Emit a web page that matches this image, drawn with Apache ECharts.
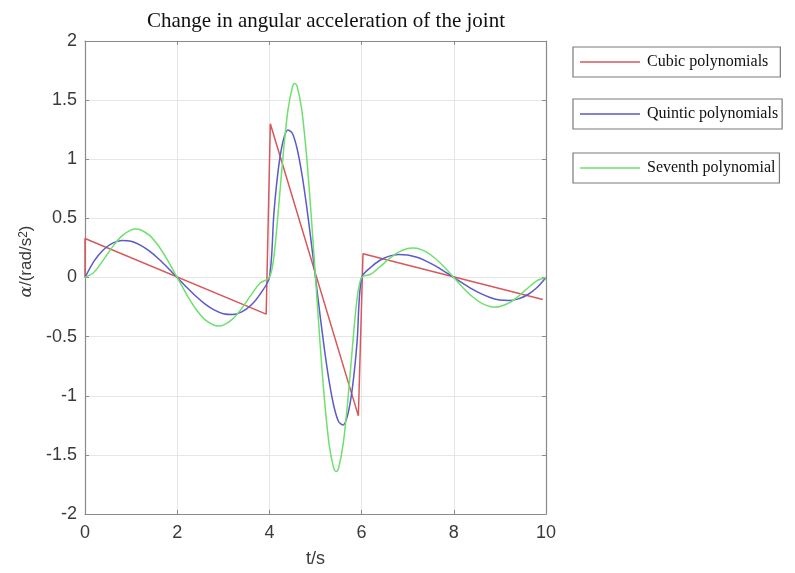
<!DOCTYPE html>
<html>
<head>
<meta charset="utf-8">
<script src="https://cdn.jsdelivr.net/npm/echarts@6/dist/echarts.min.js"></script>
<style>html,body{margin:0;padding:0;background:#fff;}#c{width:795px;height:573px;}</style>
</head>
<body>
<div id="c"></div>
<script>
// ---- data ----
const xTicks = [0, 2, 4, 6, 8, 10];
const yTicks = [-2, -1.5, -1, -0.5, 0, 0.5, 1, 1.5, 2];

const cubicT = [0, 0, 3.93, 4.02, 5.93, 6.03, 9.93];
const cubicA = [0, 0.33, -0.31, 1.30, -1.17, 0.20, -0.186];

const quinticT = [0,0.2,0.4,0.6,0.8,1.0,1.2,1.4,1.6,1.8,2.0,2.2,2.4,2.6,2.8,3.0,3.2,3.4,3.6,3.8,4.0,
  4.1,4.2,4.3,4.4,4.5,4.6,4.7,4.8,4.9,5.0,5.1,5.2,5.3,5.4,5.5,5.6,5.7,5.8,5.9,6.0,
  6.2,6.4,6.6,6.8,7.0,7.2,7.4,7.6,7.8,8.0,8.2,8.4,8.6,8.8,9.0,9.2,9.4,9.6,9.8,10.0];
const quinticA = [0,0.14,0.235,0.291,0.313,0.306,0.274,0.223,0.157,0.081,0,-0.081,-0.157,-0.223,-0.274,-0.306,-0.313,-0.291,-0.235,-0.14,0,
  0.555,0.935,1.159,1.247,1.218,1.091,0.887,0.624,0.322,0,-0.322,-0.624,-0.887,-1.091,-1.218,-1.247,-1.159,-0.935,-0.555,0,
  0.087,0.146,0.181,0.195,0.191,0.171,0.139,0.098,0.05,0,-0.05,-0.098,-0.139,-0.171,-0.191,-0.195,-0.181,-0.146,-0.087,0];

const seventhT = [0,0.2,0.4,0.6,0.8,1.0,1.1,1.2,1.4,1.6,1.8,2.0,2.2,2.4,2.6,2.8,2.9,3.0,3.2,3.4,3.6,3.8,4.0,
  4.1,4.2,4.3,4.4,4.5,4.55,4.6,4.7,4.8,4.9,5.0,5.1,5.2,5.3,5.4,5.45,5.5,5.6,5.7,5.8,5.9,6.0,
  6.2,6.4,6.6,6.8,7.0,7.1,7.2,7.4,7.6,7.8,8.0,8.2,8.4,8.6,8.8,8.9,9.0,9.2,9.4,9.6,9.8,10.0];
const seventhA = [0,0.047,0.149,0.261,0.352,0.403,0.41,0.404,0.356,0.264,0.14,0,-0.14,-0.264,-0.356,-0.404,-0.41,-0.403,-0.352,-0.261,-0.149,-0.047,0,
  0.186,0.594,1.044,1.409,1.612,1.64,1.618,1.424,1.056,0.562,0,-0.562,-1.056,-1.424,-1.618,-1.64,-1.612,-1.409,-1.044,-0.594,-0.186,0,
  0.028,0.091,0.159,0.215,0.246,0.25,0.247,0.217,0.161,0.086,0,-0.086,-0.161,-0.217,-0.247,-0.25,-0.246,-0.215,-0.159,-0.091,-0.028,0];

const names = ['Cubic polynomials', 'Quintic polynomials', 'Seventh polynomial'];
const colors = ['#d9575a', '#5a5ac8', '#6ee06e'];

const zip = (a, b) => a.map((v, i) => [v, b[i]]);

const chart = echarts.init(document.getElementById('c'));
const axisGray = '#8a8a8a';
const labelStyle = { fontFamily: 'Liberation Sans, Arial, sans-serif', fontSize: 18, color: '#3a3a3a' };

function legendBox(i, top, padRight) {
  return {
    data: [{ name: names[i], icon: 'rect', itemStyle: { color: colors[i] } }],
    left: 573, top: top, orient: 'horizontal',
    itemWidth: 60, itemHeight: 1.6, itemGap: 0,
    padding: [7, padRight, 7, 7],
    borderColor: '#7a7a7a', borderWidth: 1.2, backgroundColor: '#fff',
    textStyle: { fontFamily: 'Liberation Serif, Times New Roman, serif', fontSize: 16, color: '#111', padding: [0, 0, 0, 2] },
    selectedMode: false
  };
}

const boxAxisTick = { show: true, inside: true, length: 4, lineStyle: { color: axisGray } };

chart.setOption({
  animation: false,
  backgroundColor: '#fff',
  title: {
    text: 'Change in angular acceleration of the joint',
    left: 321, top: 6, textAlign: 'center',
    textStyle: { fontFamily: 'Liberation Serif, Times New Roman, serif', fontSize: 21, fontWeight: 'normal', color: '#111' }
  },
  legend: [legendBox(0, 47, 12), legendBox(1, 99, 4), legendBox(2, 153, 4)],
  grid: { left: 85, right: 249, top: 41, bottom: 58, containLabel: false },
  xAxis: [{
    type: 'value', min: 0, max: 10, interval: 2,
    name: 't/s', nameLocation: 'middle', nameGap: 36,
    nameTextStyle: labelStyle,
    axisLine: { onZero: false, lineStyle: { color: axisGray, width: 1.2 } },
    axisTick: boxAxisTick,
    axisLabel: Object.assign({ margin: 10 }, labelStyle),
    splitLine: { show: true, lineStyle: { color: '#e6e6e6', width: 1 } }
  }, {
    type: 'value', min: 0, max: 10, interval: 2, position: 'top',
    axisLine: { show: true, onZero: false, lineStyle: { color: axisGray, width: 1.2 } },
    axisTick: boxAxisTick,
    axisLabel: { show: false }, splitLine: { show: false }
  }],
  yAxis: [{
    type: 'value', min: -2, max: 2, interval: 0.5,
    name: '{i|α}/(rad/s{s|2})', nameLocation: 'middle', nameGap: 44, nameRotate: 90,
    nameTextStyle: Object.assign({}, labelStyle, {
      fontSize: 17, padding: [0, 0, 0, 32],
      rich: {
        i: { fontFamily: 'DejaVu Serif, serif', fontStyle: 'italic', fontSize: 17, color: '#3a3a3a' },
        s: { fontFamily: 'Liberation Sans, Arial, sans-serif', fontSize: 12, color: '#3a3a3a', verticalAlign: 'top', lineHeight: 12 }
      }
    }),
    axisLine: { show: true, onZero: false, lineStyle: { color: axisGray, width: 1.2 } },
    axisTick: boxAxisTick,
    axisLabel: Object.assign({ margin: 8 }, labelStyle),
    splitLine: { show: true, lineStyle: { color: '#e6e6e6', width: 1 } }
  }, {
    type: 'value', min: -2, max: 2, interval: 0.5, position: 'right',
    axisLine: { show: true, onZero: false, lineStyle: { color: axisGray, width: 1.2 } },
    axisTick: boxAxisTick,
    axisLabel: { show: false }, splitLine: { show: false }
  }],
  series: [
    { name: names[0], type: 'line', data: zip(cubicT, cubicA), symbol: 'none',
      lineStyle: { color: colors[0], width: 1.5 }, itemStyle: { color: colors[0] } },
    { name: names[1], type: 'line', data: zip(quinticT, quinticA), symbol: 'none', smooth: 0.3,
      lineStyle: { color: colors[1], width: 1.5 }, itemStyle: { color: colors[1] } },
    { name: names[2], type: 'line', data: zip(seventhT, seventhA), symbol: 'none', smooth: 0.3,
      lineStyle: { color: colors[2], width: 1.5 }, itemStyle: { color: colors[2] } }
  ]
});
</script>
</body>
</html>
